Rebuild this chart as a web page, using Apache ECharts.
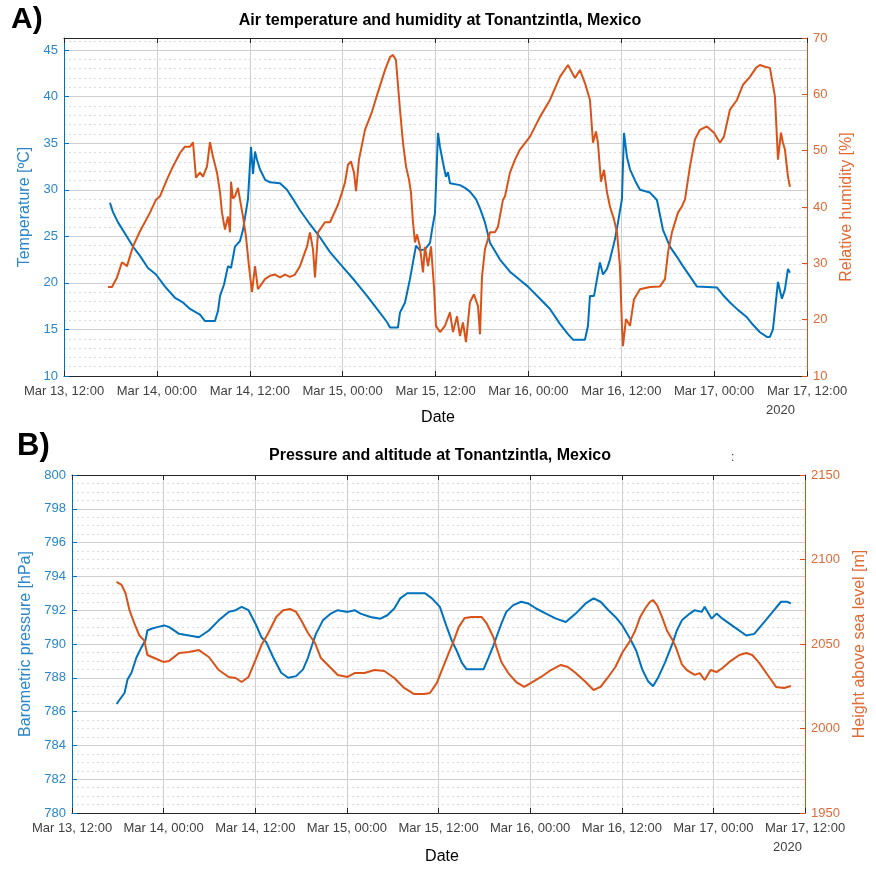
<!DOCTYPE html>
<html>
<head>
<meta charset="utf-8">
<title>Tonantzintla, Mexico</title>
<script src="https://cdn.jsdelivr.net/npm/echarts@6/dist/echarts.min.js"></script>
<style>
  html, body { margin: 0; padding: 0; background: #fff; }
  #chart { width: 876px; height: 869px; }
</style>
</head>
<body>
<div id="chart"></div>
<script>
// x = hours after Mar 13, 12:00 (2020)
var xTickLabels = ['Mar 13, 12:00', 'Mar 14, 00:00', 'Mar 14, 12:00', 'Mar 15, 00:00', 'Mar 15, 12:00',
  'Mar 16, 00:00', 'Mar 16, 12:00', 'Mar 17, 00:00', 'Mar 17, 12:00'];

// panel A: air temperature [ºC]
var tempData = [[5.94,28.6],[6.33,27.6],[6.98,26.5],[7.88,25.3],[8.91,23.9],[9.82,22.9],[10.85,21.6],[11.89,20.9],
  [13.05,19.6],[14.34,18.4],[15.37,17.9],[16.28,17.2],[17.57,16.6],[18.22,15.9],[19.51,15.9],[19.90,17.0],[20.16,18.6],
  [20.67,19.8],[21.19,21.8],[21.58,21.6],[22.09,23.9],[22.74,24.5],[23.13,25.7],[23.77,29.0],[24.16,34.6],[24.42,31.7],
  [24.68,34.1],[24.94,33.2],[25.32,32.2],[25.97,31.1],[26.61,30.8],[27.91,30.7],[28.81,30.0],[29.59,29.0],[30.49,27.8],
  [31.78,26.3],[33.07,24.9],[34.37,23.3],[35.92,21.8],[37.60,20.2],[39.15,18.6],[40.44,17.2],[41.73,15.8],[42.12,15.2],
  [43.15,15.2],[43.41,16.8],[44.06,17.9],[44.70,20.4],[45.09,22.2],[45.48,24.0],[45.99,23.5],[46.64,23.6],[47.29,24.3],
  [47.55,25.7],[47.93,27.5],[48.32,36.1],[48.58,34.6],[48.97,32.9],[49.35,31.4],[49.61,31.9],[49.87,30.7],[51.16,30.5],
  [51.81,30.2],[52.45,29.8],[53.23,29.0],[53.75,28.0],[54.39,26.5],[55.04,24.3],[56.33,22.5],[57.62,21.2],[58.91,20.3],
  [59.95,19.6],[61.50,18.3],[62.79,17.2],[64.08,15.6],[65.12,14.5],[65.76,13.9],[67.31,13.9],[67.70,15.4],[67.96,18.6],
  [68.48,18.6],[69.25,22.2],[69.64,20.9],[70.16,21.5],[70.54,22.5],[71.19,24.7],[71.58,26.5],[72.09,29.0],[72.35,36.1],
  [72.74,33.5],[73.13,32.2],[73.77,31.0],[74.42,30.0],[75.71,29.7],[76.61,28.9],[77.39,25.7],[78.29,23.9],[79.20,22.8],
  [79.97,21.8],[80.88,20.7],[81.78,19.6],[84.37,19.5],[85.14,18.7],[86.05,17.9],[87.08,17.1],[88.24,16.3],[89.02,15.5],
  [89.92,14.7],[90.83,14.2],[91.21,14.2],[91.60,15.0],[92.25,20.1],[92.76,18.3],[93.15,19.3],[93.54,21.5],[93.80,21.1]];

// panel A: relative humidity [%]
var humidityData = [[5.68,25.8],[6.20,25.8],[6.85,27.5],[7.49,30.2],[8.14,29.5],[8.91,33.0],[9.82,35.7],[11.11,39.0],
  [11.89,41.3],[12.40,41.9],[13.31,44.9],[14.08,47.2],[14.99,49.6],[15.63,50.7],[16.28,50.7],[16.67,51.5],[17.05,45.2],
  [17.57,46.1],[17.96,45.4],[18.48,47.2],[18.86,51.5],[19.25,48.9],[19.77,46.1],[20.16,42.6],[20.41,39.0],[20.80,36.0],
  [21.19,38.3],[21.45,35.5],[21.58,44.5],[21.83,41.5],[22.09,41.9],[22.48,43.4],[22.74,41.3],[23.13,38.3],[23.51,34.8],
  [23.90,29.5],[24.29,24.9],[24.68,29.5],[25.06,25.4],[25.97,27.2],[26.61,27.8],[27.26,28.0],[27.91,27.5],[28.55,28.0],
  [29.20,27.6],[29.84,28.0],[30.49,29.5],[31.40,33.0],[31.78,35.5],[32.17,32.5],[32.43,27.5],[32.82,35.5],[33.72,37.3],
  [34.37,37.3],[35.40,40.4],[35.92,42.6],[36.30,44.3],[36.69,47.5],[37.08,48.1],[37.47,46.1],[37.73,42.8],[38.11,48.4],
  [38.89,53.7],[39.79,56.9],[40.57,60.4],[41.47,64.3],[42.12,66.6],[42.51,67.0],[42.89,66.1],[43.41,57.3],[43.80,51.4],
  [44.19,47.2],[44.57,44.9],[44.83,42.6],[45.09,37.3],[45.35,33.7],[45.61,35.1],[45.99,33.0],[46.38,28.4],[46.64,32.9],
  [47.03,29.5],[47.42,33.0],[47.80,25.9],[48.06,18.9],[48.58,17.8],[49.22,18.9],[49.87,21.3],[50.26,17.8],[50.78,20.6],
  [51.16,17.1],[51.55,19.5],[51.94,16.0],[52.45,23.1],[52.97,24.5],[53.49,22.4],[53.75,17.4],[54.01,27.7],[54.39,32.5],
  [55.04,35.5],[55.68,35.5],[56.07,36.5],[56.72,41.3],[56.98,41.9],[57.62,46.1],[58.27,48.4],[58.91,50.2],[60.21,52.5],
  [61.50,56.0],[62.79,59.0],[64.08,63.1],[65.12,65.2],[66.02,62.9],[66.67,64.3],[67.31,62.0],[67.96,59.0],[68.35,51.4],
  [68.73,53.4],[68.99,51.4],[69.38,44.5],[69.77,46.6],[70.16,42.6],[70.54,40.1],[71.06,37.8],[71.45,35.5],[71.83,29.5],
  [72.09,18.9],[72.22,15.3],[72.61,20.1],[73.13,18.9],[73.64,23.6],[74.42,25.4],[75.71,25.8],[77.00,25.9],[77.65,27.2],
  [78.04,31.9],[78.55,35.5],[79.33,39.0],[79.84,40.1],[80.23,41.3],[80.88,47.2],[81.52,52.0],[82.17,53.7],[83.07,54.3],
  [83.98,53.2],[84.75,51.4],[85.27,52.5],[86.05,57.3],[86.95,59.0],[87.73,61.7],[88.63,63.1],[89.41,64.7],[89.92,65.2],
  [90.57,64.9],[91.21,64.7],[91.86,59.6],[92.25,48.4],[92.64,53.2],[92.89,51.4],[93.15,50.2],[93.54,45.4],[93.80,43.6]];

// panel B: barometric pressure [hPa]
var pressureData = [[5.84,786.45],[6.23,786.7],[6.88,787.1],[7.27,787.9],[7.79,788.3],[8.44,789.2],[9.09,789.8],
  [9.61,790.2],[9.87,790.8],[10.39,790.9],[11.17,791.0],[12.08,791.1],[12.73,791.0],[14.03,790.6],[15.32,790.5],
  [16.62,790.4],[17.92,790.8],[19.22,791.4],[20.52,791.9],[21.43,792.0],[22.21,792.2],[23.12,792.0],[24.03,791.2],
  [24.81,790.4],[25.45,790.1],[26.36,789.2],[27.40,788.3],[28.31,788.0],[29.35,788.1],[30.26,788.5],[30.91,789.2],
  [31.56,790.1],[31.95,790.6],[32.86,791.4],[33.90,791.8],[34.81,792.0],[36.10,791.9],[37.01,792.0],[37.79,791.8],
  [39.09,791.6],[40.39,791.5],[41.30,791.7],[42.21,792.1],[42.99,792.7],[43.90,793.0],[45.19,793.0],[46.23,793.0],
  [47.14,792.7],[48.18,792.2],[49.09,791.0],[49.74,790.2],[50.39,789.6],[51.04,788.9],[51.69,788.5],[52.73,788.5],
  [53.90,788.5],[54.55,789.2],[55.19,789.9],[55.58,790.4],[56.23,791.2],[56.88,791.9],[57.79,792.3],[58.83,792.5],
  [59.74,792.4],[60.78,792.1],[62.08,791.8],[63.38,791.5],[64.68,791.3],[65.97,791.8],[67.27,792.4],[68.31,792.7],
  [69.22,792.5],[70.26,792.0],[71.17,791.6],[72.08,791.1],[73.12,790.3],[73.90,789.6],[74.68,788.5],[75.45,787.8],
  [76.10,787.5],[76.75,788.0],[77.66,788.9],[78.70,790.1],[79.22,790.8],[79.87,791.4],[80.91,791.8],[81.56,792.0],
  [82.47,791.9],[82.86,792.2],[83.77,791.5],[84.42,791.8],[85.19,791.5],[86.75,791.0],[88.31,790.5],[89.35,790.6],
  [90.65,791.3],[91.95,792.0],[92.86,792.5],[93.64,792.5],[94.16,792.4]];

// panel B: height above sea level [m]
var altitudeData = [[5.84,2086.7],[6.49,2085.0],[7.01,2080.0],[7.53,2070.0],[8.18,2062.0],[8.83,2055.0],[9.48,2052.0],
  [9.87,2043.5],[10.78,2041.7],[11.95,2039.4],[12.73,2040.0],[14.03,2044.7],[15.32,2045.3],[16.62,2046.4],[17.92,2042.3],
  [19.22,2034.6],[20.52,2030.5],[21.43,2029.9],[22.21,2027.5],[23.12,2030.5],[24.03,2040.5],[24.81,2049.4],[25.71,2056.5],
  [26.75,2066.0],[27.66,2070.0],[28.57,2070.7],[29.35,2069.0],[30.00,2064.2],[30.91,2056.5],[31.82,2050.6],[32.60,2041.7],
  [33.90,2035.8],[34.81,2031.7],[36.10,2030.5],[37.01,2032.8],[38.31,2032.8],[39.61,2034.6],[40.91,2034.0],[42.21,2029.9],
  [43.51,2024.0],[44.81,2020.4],[46.10,2020.4],[46.88,2021.0],[47.79,2027.0],[48.44,2034.6],[49.35,2044.7],[50.00,2052.0],
  [50.65,2060.0],[51.43,2065.4],[52.34,2066.0],[53.64,2066.0],[54.29,2062.4],[55.19,2054.0],[55.58,2048.2],[56.23,2039.4],
  [57.14,2032.8],[58.18,2027.5],[59.22,2024.6],[60.13,2027.0],[61.43,2030.5],[62.73,2034.6],[64.03,2037.6],[64.94,2036.4],
  [65.97,2032.8],[67.27,2027.5],[68.31,2022.8],[69.22,2024.6],[70.13,2029.9],[71.17,2036.4],[72.08,2045.0],[73.12,2052.0],
  [73.77,2058.0],[74.42,2066.0],[75.06,2071.0],[75.71,2075.0],[76.10,2076.0],[76.62,2073.0],[77.27,2066.0],[77.92,2058.0],
  [78.57,2053.0],[79.09,2048.0],[79.87,2038.0],[80.52,2034.6],[81.56,2031.7],[82.21,2032.8],[82.86,2028.7],[83.64,2034.6],
  [84.42,2033.4],[85.19,2035.8],[86.10,2039.4],[87.40,2043.5],[88.31,2044.7],[89.09,2043.5],[90.00,2038.8],[91.30,2030.5],
  [92.21,2024.6],[93.25,2024.0],[94.16,2025.1]];

var BLUE = '#0072BD', ORANGE = '#D95319';
var BLUE_TXT = '#2a86c9', ORANGE_TXT = '#e06a35';
var FONT = '"Liberation Sans", Arial, Helvetica, sans-serif';
var GRID_MAJOR = '#cfcfcf', GRID_MINOR = '#dadada';

var chart = echarts.init(document.getElementById('chart'), null, { renderer: 'canvas' });

function dateAxis(gridIndex, position) {
  var bottom = position === 'bottom';
  return {
    type: 'value', gridIndex: gridIndex, position: position,
    min: 0, max: 96, interval: 12,
    axisLine: { show: true, onZero: false, lineStyle: { color: '#262626', width: 1 } },
    axisTick: { show: true, inside: true, length: 5, lineStyle: { color: '#262626' } },
    axisLabel: {
      show: bottom, margin: 9, color: '#404040', fontSize: 13, fontFamily: FONT,
      formatter: function (v) { return xTickLabels[Math.round(v / 12)]; }
    },
    splitLine: { show: bottom, lineStyle: { color: GRID_MAJOR, width: 1 } }
  };
}

function sideAxis(gridIndex, position, color, txtColor, min, max, interval, name, gap, grid) {
  return {
    type: 'value', gridIndex: gridIndex, position: position,
    min: min, max: max, interval: interval,
    name: name, nameLocation: 'middle', nameRotate: 90, nameGap: gap,
    nameTextStyle: { color: txtColor, fontSize: 16, fontFamily: FONT },
    axisLine: { show: true, onZero: false, lineStyle: { color: color, width: 1 } },
    axisTick: { show: true, inside: true, length: 5, lineStyle: { color: color } },
    axisLabel: {
      color: txtColor, fontSize: 13, fontFamily: FONT, margin: 6,
      showMaxLabel: position === 'right' || max % interval === 0,
      formatter: function (v) { return String(v); }
    },
    splitLine: { show: grid, lineStyle: { color: GRID_MAJOR, width: 1 } }
  };
}

var option = {
  animation: false,
  backgroundColor: '#fff',
  grid: [
    { left: 64, top: 38, width: 743, height: 338 },
    { left: 72, top: 475, width: 739, height: 338 }
  ],
  xAxis: [dateAxis(0, 'bottom'), dateAxis(0, 'top'), dateAxis(1, 'bottom'), dateAxis(1, 'top')],
  yAxis: [
    sideAxis(0, 'left', BLUE, BLUE_TXT, 10, 46.3, 5, 'Temperature [ºC]', 30, true),
    sideAxis(0, 'right', ORANGE, ORANGE_TXT, 10, 70, 10, 'Relative humidity [%]', 30, false),
    // dotted 1-degree minor grid for panel A
    {
      type: 'value', gridIndex: 0, position: 'left', min: 10, max: 46.3, interval: 1, z: -1,
      axisLine: { show: false, onZero: false }, axisTick: { show: false }, axisLabel: { show: false },
      splitLine: { show: true, lineStyle: { color: GRID_MINOR, type: [2, 3], width: 1 } }
    },
    Object.assign(sideAxis(1, 'left', BLUE, BLUE_TXT, 780, 800, 2, 'Barometric pressure [hPa]', 38, true), {
      minorTick: { show: false, splitNumber: 4 },
      minorSplitLine: { show: true, lineStyle: { color: GRID_MINOR, type: [2, 3], width: 1 } }
    }),
    sideAxis(1, 'right', ORANGE, ORANGE_TXT, 1950, 2150, 50, 'Height above sea level [m]', 47, false)
  ],
  graphic: [
    { type: 'text', x: 11, y: 20, style: { text: 'A)', font: 'bold 30px ' + FONT, fill: '#000', verticalAlign: 'middle' } },
    { type: 'text', x: 440, y: 21, style: { text: 'Air temperature and humidity at Tonantzintla, Mexico', font: 'bold 16px ' + FONT, fill: '#000', align: 'center', verticalAlign: 'middle' } },
    { type: 'text', x: 438, y: 418, style: { text: 'Date', font: '16px ' + FONT, fill: '#000', align: 'center', verticalAlign: 'middle' } },
    { type: 'text', x: 766, y: 410, style: { text: '2020', font: '13px ' + FONT, fill: '#404040', verticalAlign: 'middle' } },
    { type: 'text', x: 17, y: 446, style: { text: 'B)', font: 'bold 31px ' + FONT, fill: '#000', verticalAlign: 'middle' } },
    { type: 'text', x: 440, y: 456, style: { text: 'Pressure and altitude at Tonantzintla, Mexico', font: 'bold 16px ' + FONT, fill: '#000', align: 'center', verticalAlign: 'middle' } },
    { type: 'text', x: 731, y: 458, style: { text: ':', font: '12px ' + FONT, fill: '#333', verticalAlign: 'middle' } },
    { type: 'text', x: 442, y: 857, style: { text: 'Date', font: '16px ' + FONT, fill: '#000', align: 'center', verticalAlign: 'middle' } },
    { type: 'text', x: 773, y: 847, style: { text: '2020', font: '13px ' + FONT, fill: '#404040', verticalAlign: 'middle' } }
  ],
  series: [
    { name: 'Temperature', type: 'line', xAxisIndex: 0, yAxisIndex: 0, data: tempData, showSymbol: false,
      lineStyle: { color: BLUE, width: 2 }, itemStyle: { color: BLUE } },
    { name: 'Relative humidity', type: 'line', xAxisIndex: 0, yAxisIndex: 1, data: humidityData, showSymbol: false,
      lineStyle: { color: ORANGE, width: 2 }, itemStyle: { color: ORANGE } },
    { name: 'Pressure', type: 'line', xAxisIndex: 2, yAxisIndex: 3, data: pressureData, showSymbol: false,
      lineStyle: { color: BLUE, width: 2 }, itemStyle: { color: BLUE } },
    { name: 'Altitude', type: 'line', xAxisIndex: 2, yAxisIndex: 4, data: altitudeData, showSymbol: false,
      lineStyle: { color: ORANGE, width: 2 }, itemStyle: { color: ORANGE } }
  ]
};

chart.setOption(option);
</script>
</body>
</html>
